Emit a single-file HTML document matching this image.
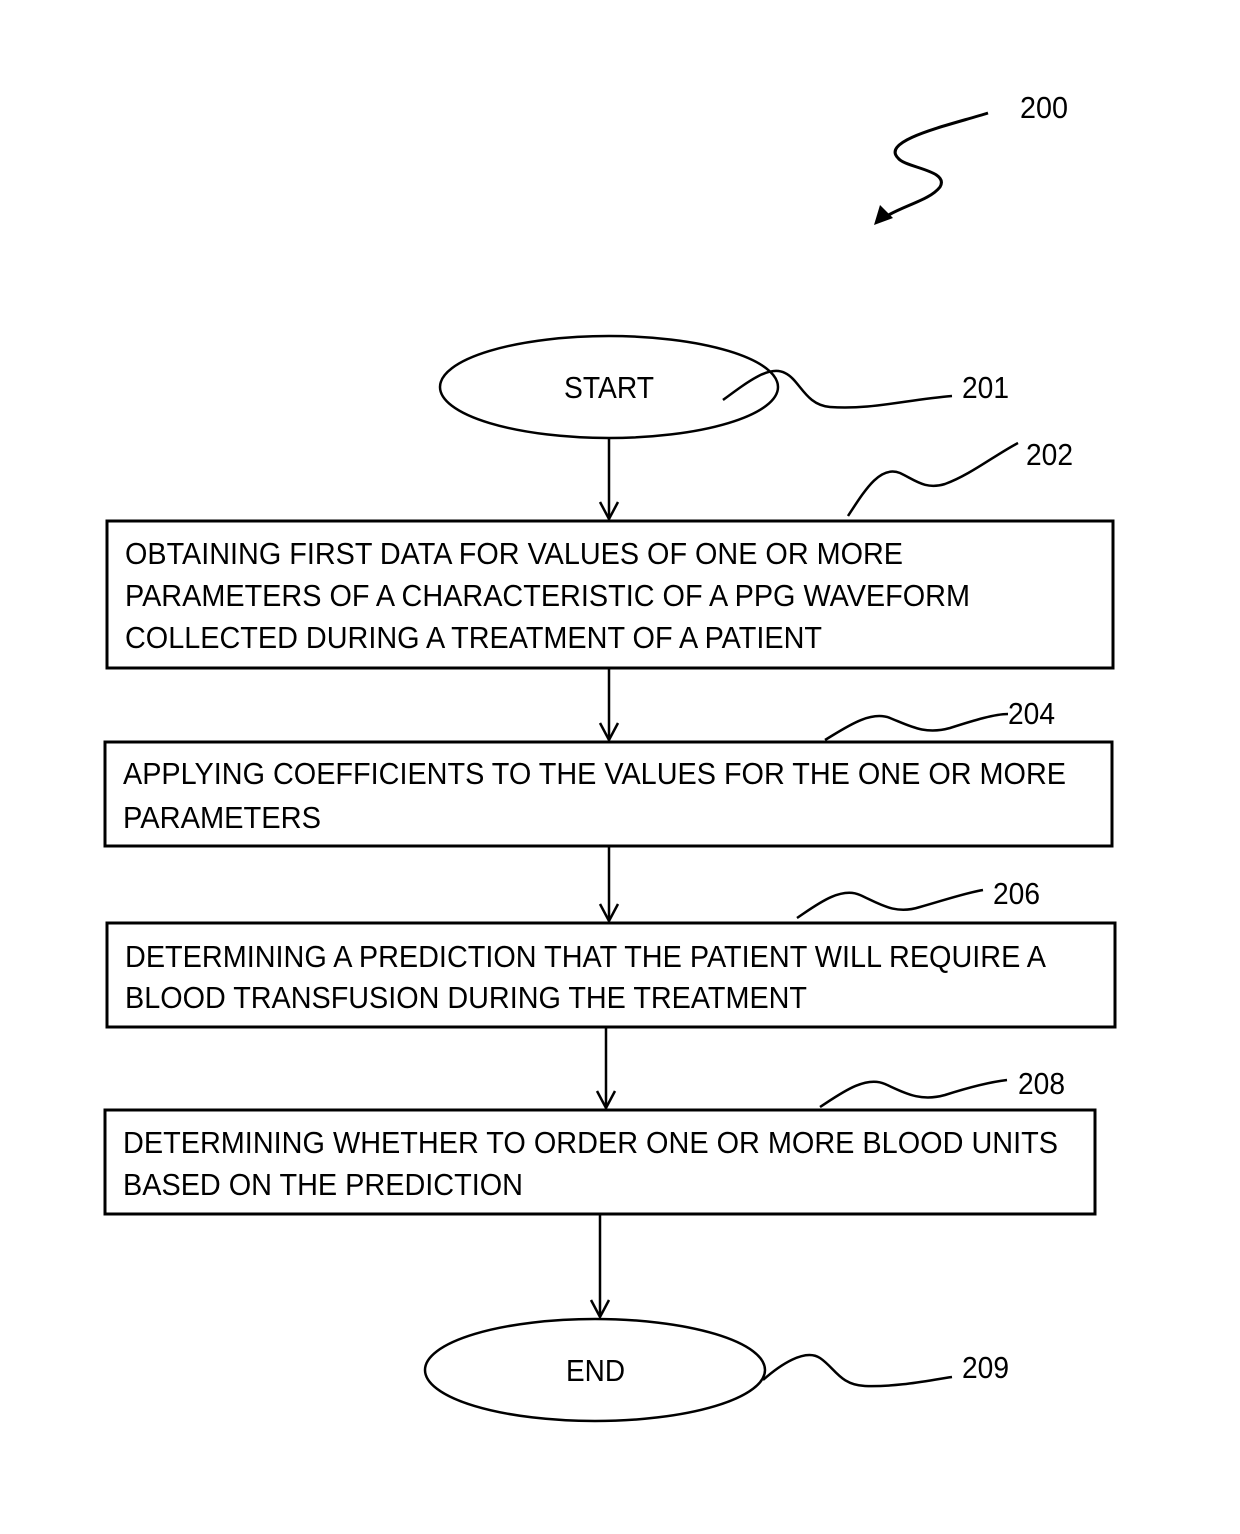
<!DOCTYPE html>
<html><head><meta charset="utf-8"><style>
html,body{margin:0;padding:0;background:#fff;}
svg{display:block;}
text{font-family:"Liberation Sans",Arial,sans-serif;font-size:31px;fill:#000;}
</style></head><body>
<svg width="1240" height="1534" viewBox="0 0 1240 1534" xmlns="http://www.w3.org/2000/svg">
<g fill="none" stroke="#000" stroke-width="2.5">
<!-- 200 squiggle -->
<path d="M988,113 C950,125 880,140 898,158 C905,168 950,170 940,187 C930,200 905,205 885,217" stroke-width="3"/>
</g>
<polygon points="874,225 880,205 893,218" fill="#000"/>
<text x="1020" y="118" textLength="48" lengthAdjust="spacingAndGlyphs">200</text>

<g fill="none" stroke="#000">
<ellipse cx="609" cy="387" rx="169" ry="51" stroke-width="2.5"/>
<ellipse cx="595" cy="1370" rx="170" ry="51" stroke-width="2.5"/>
<rect x="107" y="521" width="1006" height="147" stroke-width="3"/>
<rect x="105" y="742" width="1007" height="104" stroke-width="3"/>
<rect x="107" y="923" width="1008" height="104" stroke-width="3"/>
<rect x="105" y="1110" width="990" height="104" stroke-width="3"/>
<g stroke-width="2.5">
<line x1="609" y1="438" x2="609" y2="519"/><path d="M600,502 L609,519 L618,502"/>
<line x1="609" y1="668" x2="609" y2="740"/><path d="M600,723 L609,740 L618,723"/>
<line x1="609" y1="846" x2="609" y2="921"/><path d="M600,904 L609,921 L618,904"/>
<line x1="606" y1="1027" x2="606" y2="1108"/><path d="M597,1091 L606,1108 L615,1091"/>
<line x1="600" y1="1214" x2="600" y2="1317"/><path d="M591,1300 L600,1317 L609,1300"/>
</g>
<g stroke-width="2.5">
<path d="M723,400 C750,380 770,365 785,373 C800,380 805,405 830,407 C870,410 905,400 952,396"/>
<path d="M848,516 C865,490 880,465 900,473 C915,480 925,490 945,484 C970,475 995,455 1018,443"/>
<path d="M825,740 C845,728 870,710 890,718 C910,726 925,735 950,728 C975,720 995,714 1008,714"/>
<path d="M797,918 C815,906 840,886 860,895 C880,904 895,915 920,907 C945,900 965,893 983,890"/>
<path d="M820,1107 C840,1094 865,1075 885,1084 C905,1093 920,1102 945,1095 C970,1087 990,1082 1007,1080"/>
<path d="M763,1380 C780,1365 805,1348 820,1358 C835,1368 840,1385 865,1386 C900,1387 930,1380 952,1377"/>
</g>
</g>

<text x="564" y="398" textLength="90" lengthAdjust="spacingAndGlyphs">START</text>
<text x="566" y="1381" textLength="59" lengthAdjust="spacingAndGlyphs">END</text>
<text x="962" y="398" textLength="47" lengthAdjust="spacingAndGlyphs">201</text>
<text x="1026" y="465" textLength="47" lengthAdjust="spacingAndGlyphs">202</text>
<text x="1008" y="724" textLength="47" lengthAdjust="spacingAndGlyphs">204</text>
<text x="993" y="904" textLength="47" lengthAdjust="spacingAndGlyphs">206</text>
<text x="1018" y="1094" textLength="47" lengthAdjust="spacingAndGlyphs">208</text>
<text x="962" y="1378" textLength="47" lengthAdjust="spacingAndGlyphs">209</text>

<text x="125" y="564" textLength="778" lengthAdjust="spacingAndGlyphs">OBTAINING FIRST DATA FOR VALUES OF ONE OR MORE</text>
<text x="125" y="606" textLength="845" lengthAdjust="spacingAndGlyphs">PARAMETERS OF A CHARACTERISTIC OF A PPG WAVEFORM</text>
<text x="125" y="648" textLength="697" lengthAdjust="spacingAndGlyphs">COLLECTED DURING A TREATMENT OF A PATIENT</text>
<text x="123" y="784" textLength="943" lengthAdjust="spacingAndGlyphs">APPLYING COEFFICIENTS TO THE VALUES FOR THE ONE OR MORE</text>
<text x="123" y="828" textLength="198" lengthAdjust="spacingAndGlyphs">PARAMETERS</text>
<text x="125" y="967" textLength="921" lengthAdjust="spacingAndGlyphs">DETERMINING A PREDICTION THAT THE PATIENT WILL REQUIRE A</text>
<text x="125" y="1008" textLength="682" lengthAdjust="spacingAndGlyphs">BLOOD TRANSFUSION DURING THE TREATMENT</text>
<text x="123" y="1153" textLength="935" lengthAdjust="spacingAndGlyphs">DETERMINING WHETHER TO ORDER ONE OR MORE BLOOD UNITS</text>
<text x="123" y="1195" textLength="400" lengthAdjust="spacingAndGlyphs">BASED ON THE PREDICTION</text>
</svg>
</body></html>
